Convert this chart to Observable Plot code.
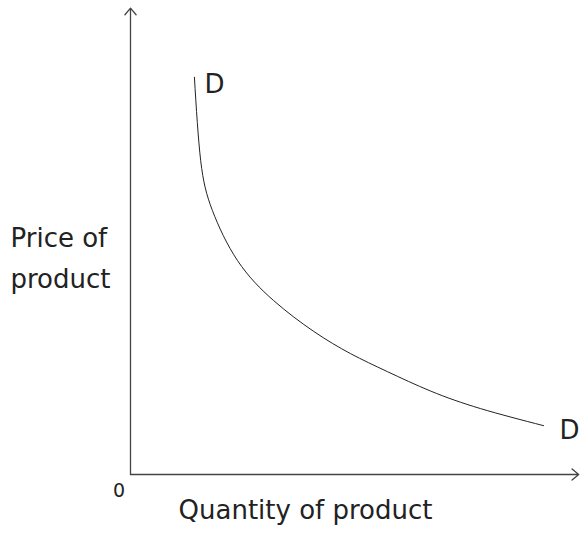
<!DOCTYPE html>
<html>
<head>
<meta charset="utf-8">
<script src="https://cdn.jsdelivr.net/npm/d3@7"></script>
<script src="https://cdn.jsdelivr.net/npm/@observablehq/plot@0.6"></script>
<style>
  html, body { margin: 0; padding: 0; background: #fff; }
  #chart svg { display: block; }
</style>
</head>
<body>
<div id="chart"></div>
<script>
// Demand curve D–D (quantity, price), arbitrary units 0–100
const quantity = [14.2, 15.6, 18.2, 23.8, 31.8, 40.7, 48.9, 57.1, 66.7, 77.8, 91.8];
const price    = [83.8, 66.2, 55.7, 45.1, 36.7, 30.2, 25.5, 21.7, 17.6, 13.9, 10.3];
const curveLabel = "D";
const xLabel = "Quantity of product";
const yLabel = "Price of\nproduct";
const originLabel = "0";
const quantityAxisMax = 99.6;
const priceAxisMax = 98.4;

const demand = quantity.map((q, i) => ({quantity: q, price: price[i]}));
const first = demand[0], last = demand[demand.length - 1];
const axes = [
  {x1: 0, y1: 0, x2: 0, y2: priceAxisMax},
  {x1: 0, y1: 0, x2: quantityAxisMax, y2: 0}
];

const font = "DejaVu Sans, Verdana, sans-serif";

const chart = Plot.plot({
  width: 580,
  height: 536,
  marginLeft: 130,
  marginRight: 0,
  marginTop: 0,
  marginBottom: 62,
  style: {fontFamily: font, background: "#fff", overflow: "visible"},
  x: {domain: [0, 100], axis: null},
  y: {domain: [0, 100], axis: null},
  marks: [
    Plot.arrow(axes, {
      x1: "x1", y1: "y1", x2: "x2", y2: "y2",
      stroke: "#444", strokeWidth: 1.3, headLength: 10, headAngle: 80, bend: 0
    }),
    Plot.line(demand, {
      x: "quantity", y: "price", curve: "natural", stroke: "#222", strokeWidth: 1
    }),
    Plot.text([first], {
      x: "quantity", y: "price", text: () => curveLabel,
      dx: 20, dy: 7, fontSize: 26, fill: "#222"
    }),
    Plot.text([last], {
      x: "quantity", y: "price", text: () => curveLabel,
      dx: 26, dy: 5, fontSize: 26, fill: "#222"
    }),
    Plot.text([yLabel], {
      frameAnchor: "left", textAnchor: "start", dx: -120, dy: 17,
      lineHeight: 1.58, fontSize: 26, fill: "#222"
    }),
    Plot.text([xLabel], {
      frameAnchor: "bottom", textAnchor: "middle", dx: -50, dy: 44, fontSize: 26, fill: "#222"
    }),
    Plot.text([originLabel], {
      frameAnchor: "bottom-left", textAnchor: "middle", dx: -11.5, dy: 22, fontSize: 19, fill: "#222"
    })
  ]
});
document.getElementById("chart").appendChild(chart);
</script>
</body>
</html>
